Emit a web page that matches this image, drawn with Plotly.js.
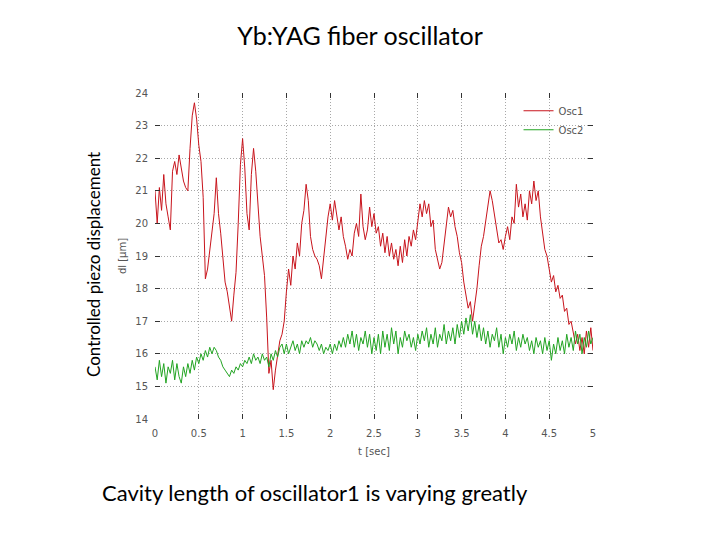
<!DOCTYPE html>
<html>
<head>
<meta charset="utf-8">
<script src="https://cdn.plot.ly/plotly-3.0.1.min.js"></script>
<style>html,body{margin:0;padding:0;background:#fff;}#chart{width:720px;height:540px;}</style>
</head>
<body>
<div id="chart"></div>
<script>
// sampling interval of the recorded traces (seconds)
const dt = 0.025;

// Osc1 piezo displacement dl [um]
const osc1 = [
  21.0, 20.0, 21.1, 20.4, 21.5, 20.6, 20.2, 19.8, 21.6, 21.9,
  21.5, 22.1, 21.7, 21.3, 21.1, 21.0, 22.3, 23.3, 23.7, 23.2,
  22.4, 21.9, 20.8, 18.3, 18.6, 19.2, 19.9, 20.3, 21.4, 20.3,
  19.7, 19.0, 18.2, 17.9, 17.4, 17.0, 17.8, 18.5, 20.0, 21.8,
  22.6, 21.7, 20.3, 19.8, 21.5, 22.3, 21.6, 20.4, 19.6, 19.0,
  18.4, 17.1, 15.4, 15.8, 14.9, 15.5, 15.9, 16.4, 16.6, 17.0,
  17.9, 18.6, 18.1, 19.0, 18.6, 19.4, 19.0, 20.0, 20.4, 21.2,
  20.7, 19.6, 19.2, 19.0, 18.9, 18.7, 18.3, 19.0, 19.7, 20.2,
  20.6, 20.1, 20.7, 20.3, 19.8, 20.2, 19.6, 19.3, 18.9, 19.2,
  19.0, 19.7, 20.0, 19.6, 20.9, 19.9, 19.5, 19.8, 20.5, 19.9,
  20.3, 19.7, 19.9, 19.3, 19.7, 19.1, 19.6, 19.0, 19.4, 18.9,
  19.2, 18.7, 19.3, 18.8, 19.5, 19.0, 19.6, 19.3, 19.8, 19.5,
  20.1, 20.6, 20.2, 20.7, 20.3, 20.6, 19.9, 20.1, 19.2, 18.9,
  18.6, 18.8, 19.4, 19.8, 20.5, 20.2, 20.4, 19.9, 19.6, 19.1,
  18.8, 18.2, 17.8, 17.4, 17.6, 17.0, 17.5, 18.0, 18.7, 19.3,
  19.6, 20.1, 20.6, 21.0, 20.7, 20.3, 19.8, 19.4, 19.5, 19.2,
  19.6, 19.9, 19.5, 20.2, 20.0, 21.2, 20.5, 20.9, 20.2, 20.6,
  20.1, 21.0, 20.6, 21.3, 20.7, 21.0, 20.2, 19.7, 19.2, 19.0,
  18.6, 18.2, 18.4, 17.9, 18.1, 17.7, 17.8, 17.3, 17.4, 16.9,
  17.0, 16.6, 16.3, 16.6, 16.1, 16.5, 16.0, 16.7, 16.2, 16.8,
  16.1
];

// Osc2 piezo displacement dl [um]
const osc2 = [
  15.6, 15.2, 15.8, 15.3, 15.7, 15.1, 15.6, 15.4, 15.8, 15.2,
  15.7, 15.3, 15.1, 15.6, 15.3, 15.7, 15.4, 15.8, 15.5, 15.9,
  15.7, 16.0, 15.8, 16.1, 15.9, 16.2, 16.0, 16.2, 16.1, 15.9,
  15.8, 15.6, 15.5, 15.4, 15.3, 15.5, 15.4, 15.6, 15.5, 15.7,
  15.6, 15.8, 15.7, 15.9, 15.7, 16.0, 15.8, 15.9, 15.7, 16.0,
  15.8, 15.9, 15.6, 16.0, 15.8, 16.1, 15.9, 16.2, 16.3, 16.0,
  16.3, 16.0, 16.2, 16.4, 16.1, 16.3, 16.0, 16.4, 16.2, 16.4,
  16.3, 16.5, 16.2, 16.4, 16.3, 16.1, 16.3, 16.0, 16.2, 16.1,
  16.3, 16.0, 16.3, 16.1, 16.4, 16.2, 16.5, 16.2, 16.6, 16.3,
  16.7, 16.2, 16.6, 16.1, 16.5, 16.3, 16.7, 16.2, 16.6, 16.0,
  16.5, 16.1, 16.6, 16.0, 16.7, 16.2, 16.6, 16.1, 16.8, 16.3,
  16.7, 16.0, 16.5, 16.2, 16.7, 16.4, 16.6, 16.2, 16.5, 16.1,
  16.6, 16.3, 16.7, 16.4, 16.8, 16.2, 16.6, 16.3, 16.8, 16.2,
  16.6, 16.4, 16.9, 16.3, 16.7, 16.4, 16.8, 16.3, 16.9, 16.5,
  17.0, 16.6, 17.1, 16.7, 17.2, 16.6, 17.0, 16.5, 16.9, 16.4,
  16.8, 16.3, 16.7, 16.2, 16.6, 16.4, 16.8, 16.2, 16.6, 16.0,
  16.5, 16.2, 16.6, 16.3, 16.7, 16.1, 16.5, 16.2, 16.6, 16.3,
  16.5, 16.1, 16.4, 16.0, 16.5, 16.2, 16.4, 16.0, 16.5, 16.1,
  16.4, 15.8, 16.3, 16.0, 16.5, 16.1, 16.4, 16.0, 16.6, 16.2,
  16.5, 16.1, 16.7, 16.3, 16.6, 16.0, 16.5, 16.2, 16.7, 16.3,
  16.5
];

const seriesNames = ['Osc1', 'Osc2'];
const xTickVals = [0, 0.5, 1, 1.5, 2, 2.5, 3, 3.5, 4, 4.5, 5];
const xTickText = ['0', '0.5', '1', '1.5', '2', '2.5', '3', '3.5', '4', '4.5', '5'];
const yTickVals = [14, 15, 16, 17, 18, 19, 20, 21, 22, 23, 24];

const t1 = osc1.map((_, i) => +(i * dt).toFixed(3));
const t2 = osc2.map((_, i) => +(i * dt).toFixed(3));

const traces = [
  {x: t1, y: osc1, name: seriesNames[0], type: 'scatter', mode: 'lines',
   line: {color: '#c8141c', width: 1}},
  {x: t2, y: osc2, name: seriesNames[1], type: 'scatter', mode: 'lines',
   line: {color: '#22a422', width: 1}}
];

const tickFont = {family: 'DejaVu Sans, sans-serif', size: 10, color: '#555'};

const layout = {
  width: 720, height: 540,
  margin: {l: 155, r: 127, t: 93, b: 121},
  paper_bgcolor: '#fff', plot_bgcolor: '#fff',
  title: {text: 'Yb:YAG fiber oscillator', x: 0.5, xref: 'container', y: 0.932, yref: 'container',
          xanchor: 'center', yanchor: 'middle',
          font: {family: 'Lato, sans-serif', size: 25, color: '#000'}},
  xaxis: {
    range: [0, 5], tickvals: xTickVals, ticktext: xTickText,
    showgrid: true, gridcolor: '#a8a8a8', griddash: '1px,2px', gridwidth: 1,
    zeroline: false, showline: false,
    ticks: 'inside', ticklen: 5, tickcolor: '#333', mirror: 'ticks',
    tickfont: tickFont, ticklabelstandoff: 7,
    title: {text: 't [sec]', font: {family: 'DejaVu Sans, sans-serif', size: 10, color: '#555'}, standoff: 9}
  },
  yaxis: {
    range: [14, 24], tickvals: yTickVals,
    showgrid: true, gridcolor: '#a8a8a8', griddash: '1px,2px', gridwidth: 1,
    zeroline: false, showline: false,
    ticks: 'inside', ticklen: 5, tickcolor: '#333', mirror: 'ticks',
    tickfont: tickFont, ticklabelstandoff: 6,
    title: {text: 'dl [μm]', font: {family: 'DejaVu Sans, sans-serif', size: 10, color: '#555'}, standoff: 6}
  },
  showlegend: true,
  legend: {x: 0.83, y: 0.99, xanchor: 'left', yanchor: 'top', bgcolor: 'rgba(255,255,255,0)',
           font: {family: 'DejaVu Sans, sans-serif', size: 10, color: '#555'},
           tracegroupgap: 0, itemwidth: 30},
  annotations: [
    {text: 'Controlled piezo displacement', xref: 'paper', yref: 'paper', x: -0.142, y: 0.475,
     xanchor: 'center', yanchor: 'middle', textangle: -90, showarrow: false,
     font: {family: 'Lato, sans-serif', size: 17, color: '#000'}},
    {text: 'Cavity length of oscillator1 is varying greatly', xref: 'paper', yref: 'paper',
     x: 0.365, y: -0.224, xanchor: 'center', yanchor: 'middle', showarrow: false,
     font: {family: 'Lato, sans-serif', size: 22, color: '#000'}}
  ]
};

Plotly.newPlot('chart', traces, layout, {displayModeBar: false, staticPlot: true});
</script>
</body>
</html>
